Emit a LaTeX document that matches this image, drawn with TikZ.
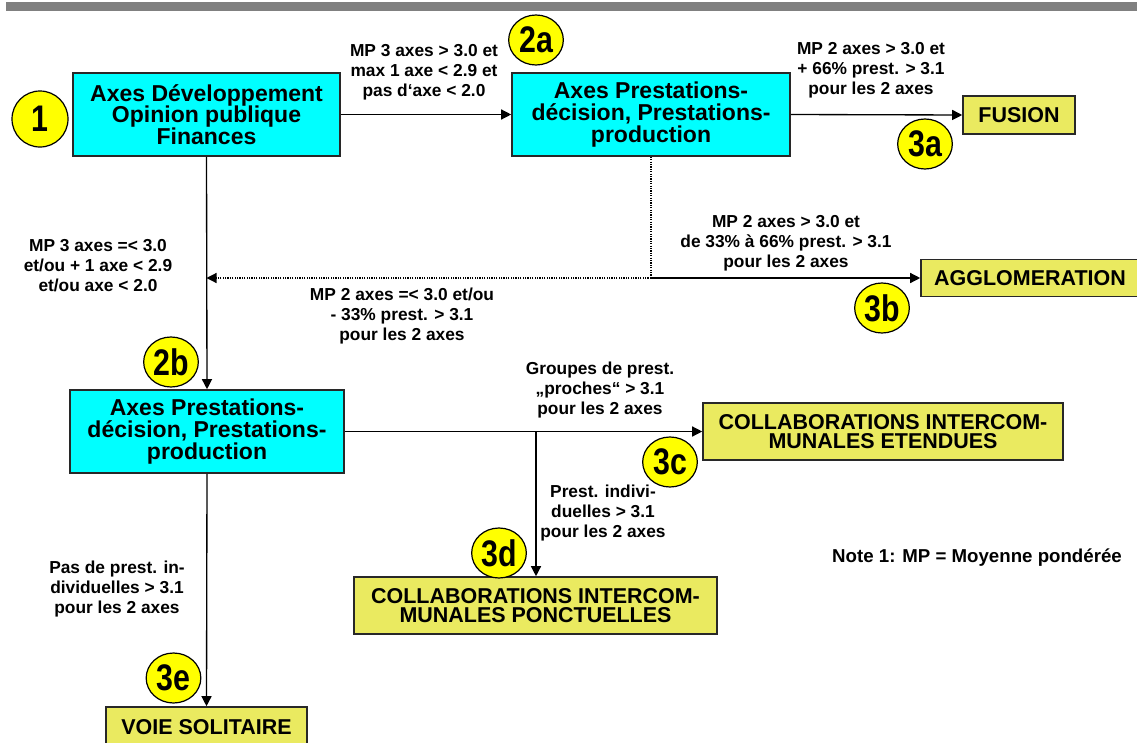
\documentclass[tikz,border=0pt]{standalone}
\usepackage{fontspec}
\setmainfont{Liberation Sans}
\newfontfamily\narrowfont[FakeStretch=0.82]{Liberation Sans}
\usetikzlibrary{shapes.geometric,arrows.meta}
\definecolor{axecyan}{RGB}{0,255,255}
\definecolor{resyellow}{RGB}{234,234,96}
\definecolor{badgeyellow}{RGB}{255,255,0}
\definecolor{bargray}{RGB}{128,128,128}
\definecolor{edgegray}{RGB}{40,40,40}
\tikzset{
  axebox/.style={draw=edgegray, line width=1.2pt, fill=axecyan, align=center, inner sep=0pt,
    minimum height=62.25pt, font=\fontsize{17.25}{16.25}\selectfont\bfseries},
  resbox/.style={draw=edgegray, line width=1.2pt, fill=resyellow, align=center, inner sep=0pt,
    font=\fontsize{16.1}{14.5}\selectfont\bfseries},
  badge/.style={ellipse, draw=black, line width=0.9pt, fill=badgeyellow, inner sep=0pt,
    minimum width=41pt, minimum height=37.5pt, font=\narrowfont\fontsize{27.75}{28}\selectfont\bfseries},
  cond/.style={align=center, inner sep=0pt, font=\fontsize{13}{15}\selectfont\bfseries},
  conn/.style={line width=1pt, -{Triangle[length=7.5pt,width=7.5pt]}},
  dotconn/.style={line width=0.9pt, dash pattern=on 0.9pt off 0.9pt},
}
\begin{document}
\begin{tikzpicture}[x=0.75pt,y=-0.75pt]
\useasboundingbox (0,0) rectangle (1137,742);
\fill[bargray] (6,2) rectangle (1137,11);

% boxes
\node[axebox, minimum width=200.25pt] (b1) at (206.5,114.5) {Axes Développement\\Opinion publique\\Finances};
\node[axebox, minimum width=208.5pt] (b2a) at (651,114.5) {Axes Prestations-\\décision, Prestations-\\production};
\node[axebox, minimum width=205.5pt] (b2b) at (207,431.5) {Axes Prestations-\\décision, Prestations-\\production};
\node[resbox, minimum width=84pt, minimum height=28.5pt] (fus) at (1019,115) {FUSION};
\node[resbox, minimum width=163.5pt, minimum height=27.75pt] (agg) at (1030,278) {AGGLOMERATION};
\node[resbox, minimum width=270pt, minimum height=42.75pt] (b3c) at (883,431.5) {COLLABORATIONS INTERCOM-\\MUNALES ETENDUES};
\node[resbox, minimum width=272.25pt, minimum height=42.75pt] (b3d) at (535.5,605.5) {COLLABORATIONS INTERCOM-\\MUNALES PONCTUELLES};
\node[resbox, minimum width=150.75pt, minimum height=30pt] (voie) at (206.5,727) {VOIE SOLITAIRE};

% connectors
\draw[conn] (b1.east) -- (b2a.west);
\draw[conn] (b2a.east) -- (fus.west);
\coordinate (j1) at (b2a.south |- agg.west);
\coordinate (j2) at (b1.south |- agg.west);
\draw[dotconn] (b2a.south) -- (j1);
\draw[conn] (j1) -- (agg.west);
\draw[dotconn, -{Triangle[length=7.5pt,width=7.5pt]}] (j1) -- (j2);
\draw[conn] (b1.south) -- (b2b.north);
\coordinate (j3) at (536,431.5);
\draw[conn] (b2b.east) -- (b3c.west);
\draw[conn] (j3) -- (j3 |- b3d.north);
\draw[conn] (b2b.south) -- (voie.north);

% badges
\node[badge, minimum width=42pt, minimum height=42pt] (n1) at (40,119) {1};
\node[badge] (n2a) at (536,40) {2a};
\node[badge] (n3a) at (925,144) {3a};
\node[badge] (n3b) at (882,308) {3b};
\node[badge] (n2b) at (171,362) {2b};
\node[badge] (n3c) at (670,462) {3c};
\node[badge] (n3d) at (499,553) {3d};
\node[badge] (n3e) at (173.5,678) {3e};

% labels
\node[cond] (l1) at (424,72) {MP 3 axes > 3.0 et\\max 1 axe < 2.9 et\\pas d‘axe < 2.0};
\node[cond] (l2) at (871,70) {MP 2 axes > 3.0 et\\+ 66\% prest. > 3.1\\pour les 2 axes};
\node[cond] (l3) at (786,243) {MP 2 axes > 3.0 et\\de 33\% à 66\% prest. > 3.1\\pour les 2 axes};
\node[cond] (l4) at (98,266) {MP 3 axes =< 3.0\\et/ou + 1 axe < 2.9\\et/ou axe < 2.0};
\node[cond] (l5) at (402,316) {MP 2 axes =< 3.0 et/ou\\- 33\% prest. > 3.1\\pour les 2 axes};
\node[cond] (l6) at (600,390) {Groupes de prest.\\„proches“ > 3.1\\pour les 2 axes};
\node[cond] (l7) at (603,513) {Prest. indivi-\\duelles > 3.1\\pour les 2 axes};
\node[cond] (l8) at (117,589) {Pas de prest. in-\\dividuelles > 3.1\\pour les 2 axes};
\node[cond, font=\fontsize{14}{16}\selectfont\bfseries] (note) at (977,558) {Note 1: MP = Moyenne pondérée};
\end{tikzpicture}
\end{document}
